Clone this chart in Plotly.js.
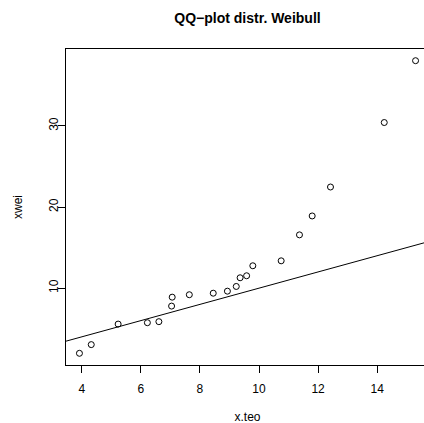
<!DOCTYPE html>
<html>
<head>
<meta charset="utf-8">
<script src="https://cdn.plot.ly/plotly-3.0.1.min.js"></script>
<style>
html, body { margin: 0; padding: 0; overflow: hidden; background: #fff; }
#chart { width: 470px; height: 434px; }
</style>
</head>
<body>
<div id="chart"></div>
<script>
// Theoretical Weibull quantiles (x.teo) and sorted sample (xwei)
const xTeo = [3.92, 4.32, 5.23, 6.22, 6.61, 7.04, 7.06, 7.64, 8.45, 8.93,
              9.23, 9.36, 9.58, 9.79, 10.75, 11.37, 11.80, 12.42, 14.24, 15.30];
const xWei = [1.97, 3.04, 5.57, 5.74, 5.87, 7.79, 8.89, 9.19, 9.38, 9.63,
              10.21, 11.28, 11.53, 12.76, 13.37, 16.57, 18.90, 22.47, 30.42, 38.04];
const xTicks = [4, 6, 8, 10, 12, 14];
const yTicks = [10, 20, 30];
// reference line y = a + b x
const lineIntercept = 0;
const lineSlope = 1;

function rRange(v) {
  const mn = Math.min(...v), mx = Math.max(...v);
  const e = 0.04 * (mx - mn);
  return [mn - e, mx + e];
}
const xr = rRange(xTeo);
const yr = rRange(xWei);
const lineX = [xr[0] - 1, xr[1] + 1];
const lineY = lineX.map(x => lineIntercept + lineSlope * x);

const fontFam = '"Liberation Sans", Arial, Helvetica, sans-serif';

const traces = [
  {
    x: xTeo, y: xWei, type: 'scatter', mode: 'markers',
    marker: { symbol: 'circle-open', size: 6, color: '#000', line: { width: 1, color: '#000' } },
    hoverinfo: 'skip', cliponaxis: false
  },
  {
    x: lineX, y: lineY, type: 'scatter', mode: 'lines',
    line: { color: '#000', width: 1 }, hoverinfo: 'skip'
  }
];

const axisCommon = {
  showgrid: false, zeroline: false, showline: true, mirror: true,
  linecolor: '#000', linewidth: 1, ticks: 'outside', ticklen: 7,
  tickwidth: 1, tickcolor: '#000', tickmode: 'array',
  tickfont: { family: fontFam, size: 12, color: '#000' }
};

const layout = {
  width: 470, height: 434,
  margin: { l: 66, r: 41, t: 49, b: 69 },
  paper_bgcolor: '#fff', plot_bgcolor: '#fff',
  showlegend: false,
  font: { family: fontFam, color: '#000' },
  title: {
    text: 'QQ\u2212plot distr. Weibull',
    font: { family: fontFam, size: 14, color: '#000', weight: 'bold' },
    xref: 'paper', x: 0.5, xanchor: 'center',
    yref: 'container', y: 1 - 18 / 434, yanchor: 'middle'
  },
  xaxis: Object.assign({}, axisCommon, {
    range: xr, tickvals: xTicks, ticktext: xTicks.map(String),
    ticklabelstandoff: 6,
    title: { text: 'x.teo', font: { family: fontFam, size: 12, color: '#000' }, standoff: 17 }
  }),
  yaxis: Object.assign({}, axisCommon, {
    range: yr, tickvals: yTicks, ticktext: yTicks.map(String), tickangle: -90,
    ticklabelstandoff: -5,
    title: { text: 'xwei', font: { family: fontFam, size: 12, color: '#000' }, standoff: 22 }
  })
};

Plotly.newPlot('chart', traces, layout, { staticPlot: true, displayModeBar: false });
</script>
</body>
</html>
